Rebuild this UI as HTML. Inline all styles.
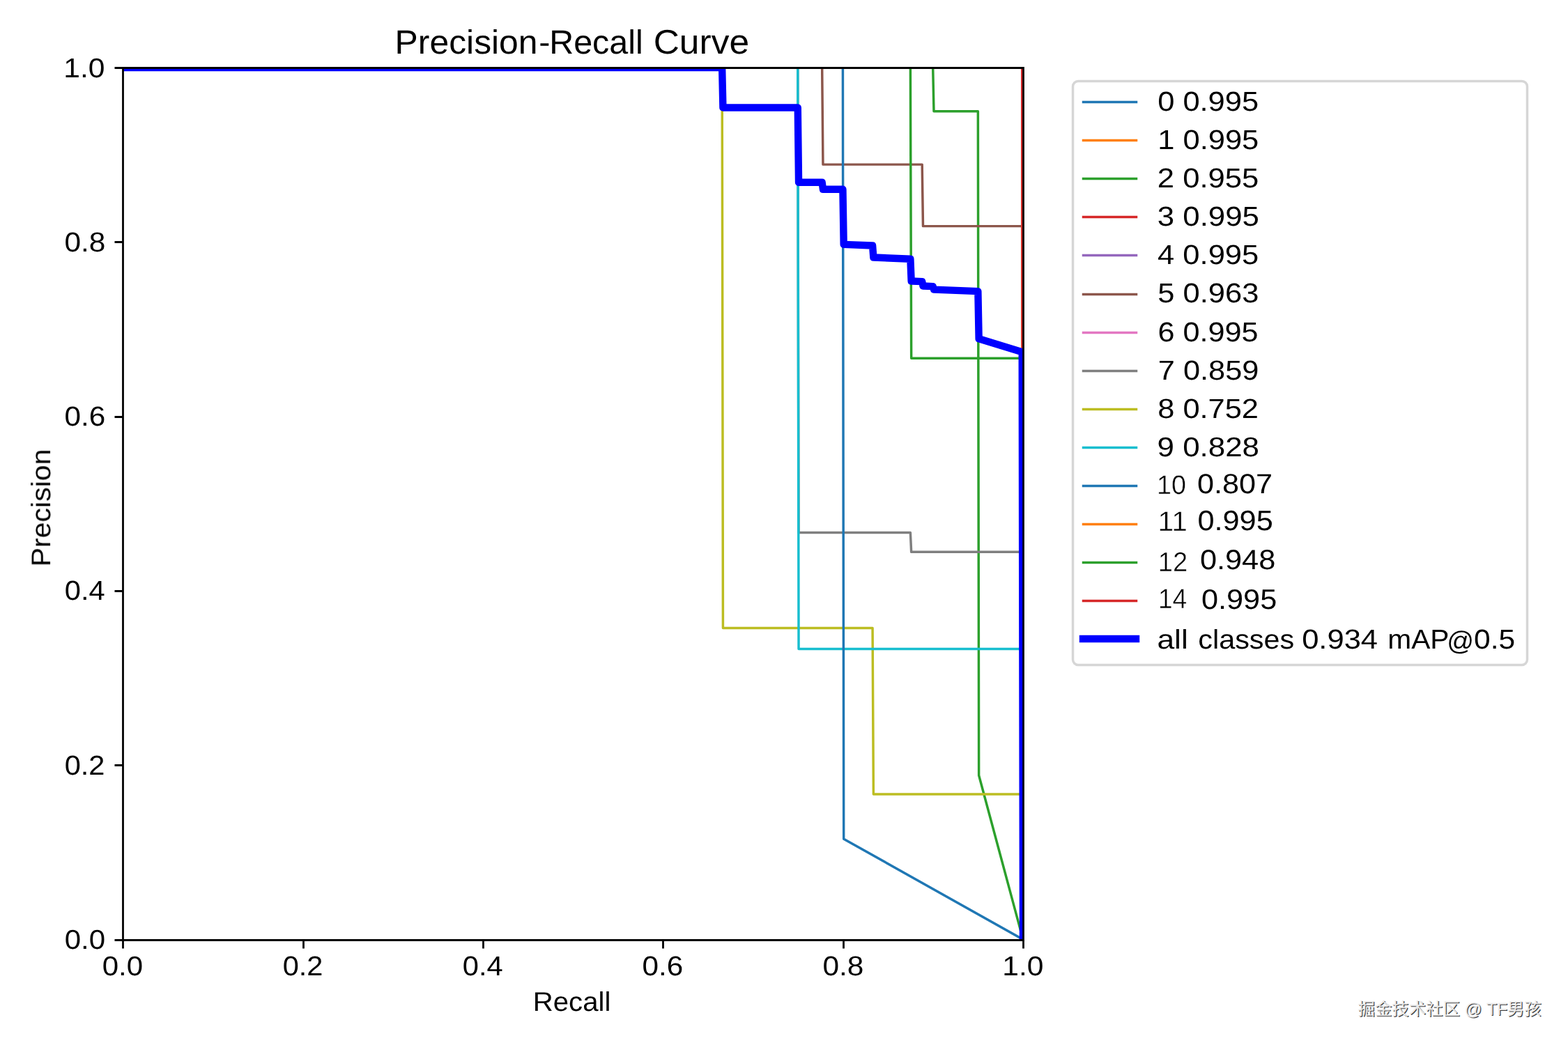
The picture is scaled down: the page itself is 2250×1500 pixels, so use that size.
<!DOCTYPE html>
<html lang="en"><head><meta charset="utf-8"><title>Precision-Recall Curve</title>
<style>html,body{margin:0;padding:0;background:#fff}body{width:2250px;height:1500px;overflow:hidden}svg{display:block}text{font-family:"Liberation Sans",sans-serif;text-rendering:geometricPrecision}.thin{stroke:#fff;stroke-width:.45px}</style></head><body>
<svg width="2250" height="1500" viewBox="0 0 2250 1500">
<rect width="2250" height="1500" fill="#fff"/>
<defs><clipPath id="ax"><rect x="176.32" y="97.08" width="1291.68" height="1251.48"/></clipPath></defs>
<g clip-path="url(#ax)" fill="none" stroke-linejoin="round" stroke-linecap="square" stroke-width="3.472">
<path stroke="#1f77b4" d="M176.32 97.08 L1466.71 97.08 L1468.00 1348.56"/>
<path stroke="#ff7f0e" d="M176.32 97.08 L1466.71 97.08 L1468.00 1348.56"/>
<path stroke="#2ca02c" d="M176.32 97.08 L1338.70 97.08 L1340.00 159.65 L1403.35 159.65 L1404.64 1112.97 L1468.00 1348.56"/>
<path stroke="#d62728" d="M176.32 97.08 L1466.71 97.08 L1468.00 1348.56"/>
<path stroke="#9467bd" d="M176.32 97.08 L1466.71 97.08 L1468.00 1348.56"/>
<path stroke="#8c564b" d="M176.32 97.08 L1179.67 97.08 L1180.96 236.13 L1323.19 236.13 L1324.48 324.62 L1466.71 324.62 L1468.00 1348.56"/>
<path stroke="#e377c2" d="M176.32 97.08 L1466.71 97.08 L1468.00 1348.56"/>
<path stroke="#7f7f7f" d="M176.32 97.08 L1144.76 97.08 L1146.05 764.54 L1306.38 764.54 L1307.67 792.35 L1466.71 792.35 L1468.00 1348.56"/>
<path stroke="#bcbd22" d="M176.32 97.08 L1036.15 97.08 L1037.44 901.60 L1252.07 901.60 L1253.37 1139.98 L1466.71 1139.98 L1468.00 1348.56"/>
<path stroke="#17becf" d="M176.32 97.08 L1144.76 97.08 L1146.05 931.40 L1466.71 931.40 L1468.00 1348.56"/>
<path stroke="#1f77b4" d="M176.32 97.08 L1209.41 97.08 L1210.70 1204.22 L1468.00 1348.56"/>
<path stroke="#ff7f0e" d="M176.32 97.08 L1466.71 97.08 L1468.00 1348.56"/>
<path stroke="#2ca02c" d="M176.32 97.08 L1306.38 97.08 L1307.67 514.24 L1466.71 514.24 L1468.00 1348.56"/>
<path stroke="#d62728" d="M176.32 97.08 L1466.71 97.08 L1468.00 1348.56"/>
<path stroke="#0000ff" stroke-width="10.417" d="M176.32 97.08 L1036.15 97.08 L1037.44 154.55 L1144.76 154.55 L1146.05 261.82 L1179.67 261.82 L1180.96 271.75 L1209.41 271.75 L1210.70 350.83 L1252.07 352.49 L1253.37 369.57 L1306.38 371.69 L1307.67 403.53 L1323.19 404.15 L1324.48 410.52 L1338.70 411.09 L1340.00 415.61 L1403.35 418.15 L1404.64 486.30 L1466.71 505.27 L1468.00 1348.56"/>
</g>
<g stroke="#000" stroke-width="2.778" fill="none">
<path d="M176.5 1349.5v12.00M176.5 1349.5h-12.00M435.5 1349.5v12.00M176.5 1098.5h-12.00M693.5 1349.5v12.00M176.5 848.5h-12.00M951.5 1349.5v12.00M176.5 598.5h-12.00M1210.5 1349.5v12.00M176.5 347.5h-12.00M1468.5 1349.5v12.00M176.5 97.5h-12.00"/>
<path stroke-linecap="square" d="M176.5 1349.5V97.5M1468.5 1349.5V97.5M176.5 1349.5H1468.5M176.5 97.5H1468.5"/>
</g>
<rect x="1539.5" y="116.5" width="652.0" height="838.0" rx="7.64" ry="7.64" fill="#fff" fill-opacity="0.8" stroke="#ccc" stroke-opacity="0.8" stroke-width="3.472"/>
<g fill="none" stroke-linecap="square" stroke-width="3.472">
<path stroke="#1f77b4" d="M1554.5 146.5H1630.5"/>
<path stroke="#ff7f0e" d="M1554.5 201.5H1630.5"/>
<path stroke="#2ca02c" d="M1554.5 256.5H1630.5"/>
<path stroke="#d62728" d="M1554.5 311.5H1630.5"/>
<path stroke="#9467bd" d="M1554.5 366.5H1630.5"/>
<path stroke="#8c564b" d="M1554.5 422.5H1630.5"/>
<path stroke="#e377c2" d="M1554.5 477.5H1630.5"/>
<path stroke="#7f7f7f" d="M1554.5 532.5H1630.5"/>
<path stroke="#bcbd22" d="M1554.5 587.5H1630.5"/>
<path stroke="#17becf" d="M1554.5 642.5H1630.5"/>
<path stroke="#1f77b4" d="M1554.5 697.5H1630.5"/>
<path stroke="#ff7f0e" d="M1554.5 752.5H1630.5"/>
<path stroke="#2ca02c" d="M1554.5 807.5H1630.5"/>
<path stroke="#d62728" d="M1554.5 862.5H1630.5"/>
<path stroke="#0000ff" stroke-width="10.417" d="M1554 917H1630"/>
</g>
<g opacity="0.999">
<text transform="matrix(1.0673 0 0 1.0339 566.60 76.68)" font-size="46.7">Precision</text>
<text transform="matrix(1.0431 0 0 0.9686 773.23 75.52)" font-size="46.7">-</text>
<text transform="matrix(1.0367 0 0 1.0327 788.21 76.60)" font-size="46.7">Recall</text>
<text transform="matrix(1.103 0 0 1.0528 937.67 76.73)" font-size="46.7">Curve</text>
<text transform="matrix(1.0325 0 0 0.9933 764.72 1450.60)" font-size="38.9">Recall</text>
<text transform="matrix(0 -1.0549 0.9923 0 71.82 813.34)" font-size="38.9">Precision</text>
<text transform="matrix(1.0803 0 0 1.0059 146.65 1399.75)" font-size="38.9">0.0</text>
<text transform="matrix(1.0696 0 0 1.0118 405.65 1399.60)" font-size="38.9">0.2</text>
<text transform="matrix(1.0713 0 0 1.0119 663.82 1399.56)" font-size="38.9">0.4</text>
<text transform="matrix(1.0872 0 0 1.0128 921.59 1399.65)" font-size="38.9">0.6</text>
<text transform="matrix(1.0913 0 0 1.0138 1180.45 1399.57)" font-size="38.9">0.8</text>
<text transform="matrix(1.0946 0 0 1.0069 1438.34 1399.63)" font-size="38.9">1.0</text>
<text transform="matrix(1.0803 0 0 1.0059 92.65 1361.75)" font-size="38.9">0.0</text>
<text transform="matrix(1.0696 0 0 1.0118 92.65 1111.60)" font-size="38.9">0.2</text>
<text transform="matrix(1.0713 0 0 1.0119 92.82 860.56)" font-size="38.9">0.4</text>
<text transform="matrix(1.0872 0 0 1.0128 92.59 610.65)" font-size="38.9">0.6</text>
<text transform="matrix(1.0913 0 0 1.0138 92.45 360.57)" font-size="38.9">0.8</text>
<text transform="matrix(1.0946 0 0 1.0069 91.34 110.63)" font-size="38.9">1.0</text>
<text transform="matrix(1.117 0 0 1.0088 1661.16 158.78)" font-size="38.9">0 0.995</text>
<text transform="matrix(1.1178 0 0 1.0122 1661.24 213.56)" font-size="38.9">1 0.995</text>
<text transform="matrix(1.1215 0 0 1.0116 1660.78 268.70)" font-size="38.9">2 0.955</text>
<text transform="matrix(1.1255 0 0 1.0094 1660.86 323.77)" font-size="38.9">3 0.995</text>
<text transform="matrix(1.1186 0 0 1.0128 1661.07 378.56)" font-size="38.9">4 0.995</text>
<text transform="matrix(1.1183 0 0 1.0099 1661.28 433.62)" font-size="38.9">5 0.963</text>
<text transform="matrix(1.1101 0 0 1.0091 1661.43 489.79)" font-size="38.9">6 0.995</text>
<text transform="matrix(1.1135 0 0 1.0126 1661.85 544.55)" font-size="38.9">7 0.859</text>
<text transform="matrix(1.1163 0 0 1.0137 1661.17 599.74)" font-size="38.9">8 0.752</text>
<text transform="matrix(1.1289 0 0 1.0066 1660.52 654.71)" font-size="38.9">9 0.828</text>
<text transform="matrix(0.9686 0 0 0.9843 1660.11 708.55)" font-size="38.9" class="thin">10</text>
<text transform="matrix(1.1094 0 0 1.0223 1718.05 707.82)" font-size="38.9">0.807</text>
<text transform="matrix(1.0456 0 0 1.0307 1661.59 761.81)" font-size="38.9" class="thin">11</text>
<text transform="matrix(1.1123 0 0 1.0382 1718.46 761.39)" font-size="38.9">0.995</text>
<text transform="matrix(0.9771 0 0 1.0079 1661.84 820.10)" font-size="38.9" class="thin">12</text>
<text transform="matrix(1.1137 0 0 1.0284 1721.90 816.88)" font-size="38.9">0.948</text>
<text transform="matrix(0.9564 0 0 1.0272 1661.89 873.40)" font-size="38.9" class="thin">14</text>
<text transform="matrix(1.1118 0 0 1.0336 1724.01 874.08)" font-size="38.9">0.995</text>
<text transform="matrix(1.1398 0 0 0.992 1660.47 930.70)" font-size="38.9">all</text>
<text transform="matrix(1.0635 0 0 0.9934 1719.31 930.56)" font-size="38.9">classes</text>
<text transform="matrix(1.1187 0 0 1.0124 1868.15 930.65)" font-size="38.9">0.934</text>
<text transform="matrix(1.0458 0 0 1.0094 1991.26 930.70)" font-size="38.9">mAP</text>
<text transform="matrix(0.9825 0 0 0.986 2076.27 932.70)" font-size="38.9">@</text>
<text transform="matrix(1.0928 0 0 1.01 2115.10 930.71)" font-size="38.9">0.5</text>
</g>
<g role="img" aria-label="掘金技术社区 @ TF男孩"><title>掘金技术社区 @ TF男孩</title>
<text x="1949.8" y="1458.4" font-size="25" textLength="263" lengthAdjust="spacingAndGlyphs" fill="#000" fill-opacity="0.8" style="font-family:'Liberation Sans','Noto Sans CJK SC',sans-serif">掘金技术社区 @ TF男孩</text>
<text x="1948.6" y="1457.2" font-size="25" textLength="263" lengthAdjust="spacingAndGlyphs" fill="#e9e9e9" style="font-family:'Liberation Sans','Noto Sans CJK SC',sans-serif">掘金技术社区 @ TF男孩</text>
</g>
</svg></body></html>
